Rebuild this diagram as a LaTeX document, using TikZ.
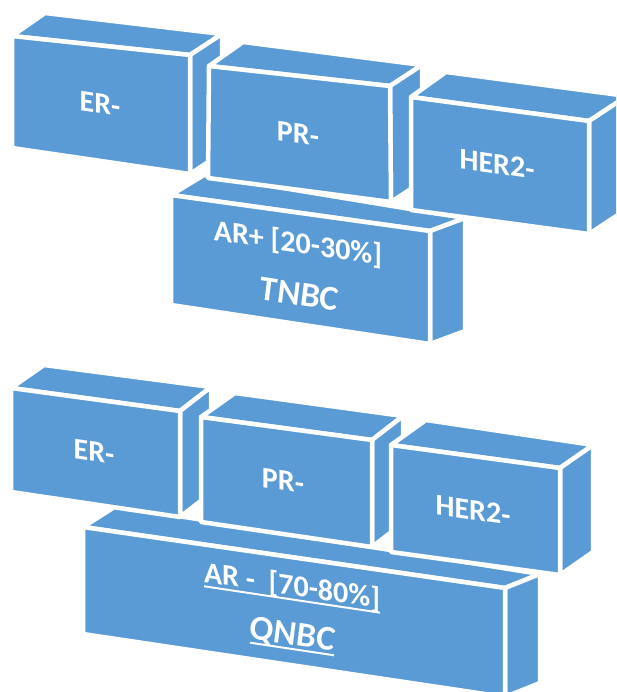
\documentclass[tikz,border=0pt]{standalone}
\usepackage{fontspec}
\setmainfont{Carlito}
\usetikzlibrary{calc}
\definecolor{slabblue}{HTML}{5B9BD5}

% A 3-D brick: front face corners TL TR BR BL, depth offsets at left and right
\newcommand\brick[7]{%
  \coordinate (#1-tl) at (#2);
  \coordinate (#1-tr) at (#3);
  \coordinate (#1-br) at (#4);
  \coordinate (#1-bl) at (#5);
  \path[face] (#1-tl) -- (#1-tr) -- ($(#1-tr)+(#7)$) -- ($(#1-tl)+(#6)$) -- cycle;
  \path[face] (#1-tr) -- ($(#1-tr)+(#7)$) -- ($(#1-br)+(#7)$) -- (#1-br) -- cycle;
  \path[face] (#1-tl) -- (#1-tr) -- (#1-br) -- (#1-bl) -- cycle;
}
% thick underline
\newcommand\ulbar[1]{\setbox0=\hbox{#1}\rlap{\rule[-5pt]{\wd0}{2pt}}\box0}

\begin{document}
\begin{tikzpicture}[x=1pt,y=-1pt,
  face/.style={fill=slabblue,draw=white,line width=4.5pt,line join=round},
  lbl/.style={text=white,inner sep=0pt,yslant=-0.15,
    font=\fontsize{30}{35}\selectfont\bfseries},
  big/.style={text=white,inner sep=0pt,yslant=-0.15,
    font=\fontsize{35}{41}\selectfont\bfseries\itshape}]
\useasboundingbox (0,0) rectangle (616,692);
\fill[white] (0,0) rectangle (616,692);
\clip (0,0) rectangle (616,692);

% ---- upper group ----
\brick{ar1}{171,195}{430,231}{430,344}{171,305}{33,-20}{35,-13}
\brick{er1}{12,36}{190,55}{190,174}{12,148}{33,-23}{32,-21}
\brick{pr1}{209,66}{390,86}{391,202}{208,178}{34,-24}{32,-21}
\brick{her1}{411,97}{589,121}{589,234}{411,210}{35,-25}{38,-25}

\node[lbl] (t-er) at (100,104) {ER-};
\node[lbl] (t-pr) at (298,134) {PR-};
\node[lbl] (t-her) at (497,164) {HER2-};
\node[lbl] (t-ar) at (298,244) {AR+ [20-30\%]};
\node[big] (t-tnbc) at (299,294) {TNBC};

% ---- lower group ----
\brick{ar2}{83,527}{505,588}{505,697}{83,634}{33,-21}{35,-14}
\brick{er2}{11,388}{180,411}{180,517}{11,492}{33,-23}{31,-24}
\brick{pr2}{201,417}{372,440}{372,547}{201,522}{34,-24}{31,-24}
\brick{her2}{391,445}{560,468}{560,575}{391,552}{35,-25}{33,-23}

\node[lbl] (b-er) at (94,452) {ER-};
\node[lbl] (b-pr) at (283,481) {PR-};
\node[lbl] (b-her) at (473,510) {HER2-};
\node[lbl] (b-ar) at (292,587) {\ulbar{AR -\ \ [70-80\%]}};
\node[big] (b-qnbc) at (292,636) {\ulbar{QNBC}};
\end{tikzpicture}
\end{document}
